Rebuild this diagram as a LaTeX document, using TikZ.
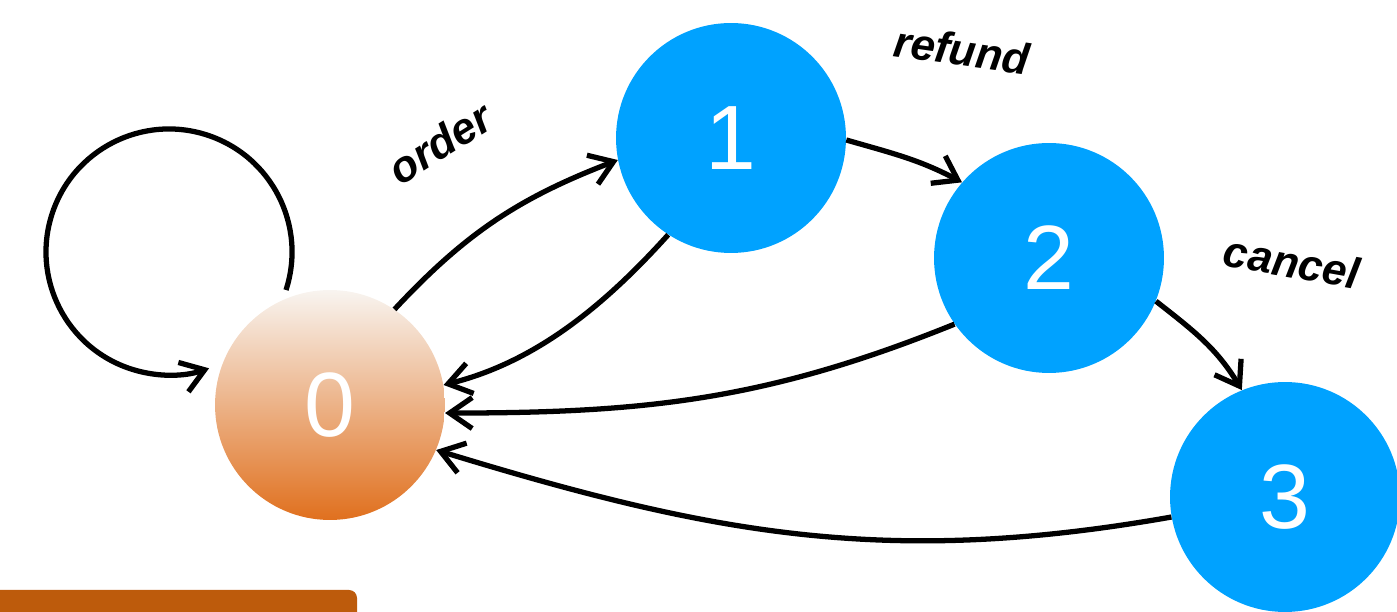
\documentclass[tikz,border=0pt]{standalone}
\usepackage{fontspec}
\setmainfont{Liberation Sans}
\usetikzlibrary{arrows.meta}
\definecolor{nodeblue}{RGB}{0,162,255}
\definecolor{topcream}{RGB}{248,244,240}
\definecolor{botorange}{RGB}{224,112,30}
\definecolor{barorange}{RGB}{189,91,12}
\tikzset{
  state/.style={circle, minimum size=4.6cm, inner sep=0pt, text=white,
    font=\fontsize{52}{58}\selectfont},
  bluestate/.style={state, fill=nodeblue},
  startstate/.style={state, top color=topcream, bottom color=botorange},
  trans/.style={line width=3pt, -{Straight Barb[length=0.45cm, width=0.62cm, line width=3pt]}},
  lbl/.style={font=\fontsize{25}{30}\selectfont\bfseries\itshape, inner sep=0pt}
}
\begin{document}
\begin{tikzpicture}[x=0.02cm, y=0.02cm]
\useasboundingbox (0,0) rectangle (1397,612);
\clip (0,0) rectangle (1397,612);
% bottom bar
\fill[barorange, rounded corners=0.16cm] (-20,-20) -- (-20,22) -- (357,22) -- (357,-20) -- cycle;
% nodes
\node[startstate] (n0) at (330,207) {0};
\node[bluestate] (n1) at (731,474) {1};
\node[bluestate] (n2) at (1049,354) {2};
\node[bluestate] (n3) at (1285,115) {3};
% labels
\node[lbl, rotate=32] (lo) at (440,469) {order};
\node[lbl, rotate=-8] (lr) at (962,562) {refund};
\node[lbl, rotate=-10] (lc) at (1292,350) {cancel};
% self loop
\coordinate (ls) at (286,322);
\draw[trans] (ls) arc[start angle=-18, end angle=289, radius=123];
% edges
\draw[trans] (n0.56) to[out=47, in=201] (n1.191);
\draw[trans] (n1.237) to[out=228, in=14, looseness=0.9] (n0.10);
\draw[trans] (n1.-1) to[out=-16, in=152] (n2.139);
\draw[trans] (n2.215) to[out=202, in=0] (n0.-4);
\draw[trans] (n2.-22) to[out=-38, in=121] (n3.112);
\draw[trans] (n3.190) to[out=190, in=-17] (n0.-23);
\end{tikzpicture}
\end{document}
